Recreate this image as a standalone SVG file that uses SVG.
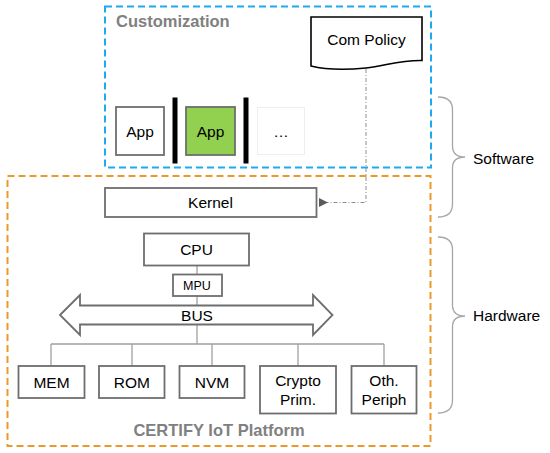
<svg xmlns="http://www.w3.org/2000/svg" width="550" height="453" viewBox="0 0 550 453">
<defs>
<style>
text{font-family:"Liberation Sans",Arial,sans-serif;font-size:15.5px;fill:#000;text-anchor:middle}
.title{font-weight:bold;font-size:16.5px;fill:#808080}
.box{fill:#fff;stroke:#6e6e6e;stroke-width:1.8}
.wire{fill:none;stroke:#a0a0a0;stroke-width:1.3}
.brace{fill:none;stroke:#a6a6a6;stroke-width:1.3}
.bar{fill:#000}
</style>
<marker id="arr" viewBox="0 0 10 10" refX="1" refY="5" markerWidth="9" markerHeight="10" markerUnits="userSpaceOnUse" orient="auto-start-reverse">
<path d="M0,5 L10,0 L10,10 Z" fill="#5a5a5a"/>
</marker>
</defs>
<g id="customization">
<rect x="105" y="6.5" width="326" height="161" fill="none" stroke="#1eaaf0" stroke-width="2" stroke-dasharray="7,4"/>
<text class="title" x="116" y="27" style="text-anchor:start">Customization</text>
</g>
<g id="platform">
<rect x="7.5" y="176" width="423" height="270" fill="none" stroke="#eb9a2a" stroke-width="2" stroke-dasharray="7,4"/>
<text class="title" x="219" y="436">CERTIFY IoT Platform</text>
</g>
<g id="connectors">
<path d="M366,69 V202.5 H327" fill="none" stroke="#909090" stroke-width="1" stroke-dasharray="4,2,1,2" marker-end="url(#arr)"/>
<path class="wire" d="M197,266 V274 M197,296 V305"/>
<path class="wire" d="M197,325 V344 M51,344 H384 M51,344 V366 M132,344 V366 M212,344 V366 M298,344 V366 M384,344 V366"/>
</g>
<g id="compolicy">
<path d="M311,17 H422 V60.5 C400,60 385,66 366,68 C345,70 325,69.5 311,66 Z" fill="#fff" stroke="#000" stroke-width="1.6"/>
<text x="366.5" y="45">Com Policy</text>
</g>
<g id="app1">
<rect class="box" x="116" y="107" width="48" height="48"/>
<text x="140" y="136.5">App</text>
</g>
<rect class="bar" x="172.5" y="97.5" width="5" height="66"/>
<g id="app2">
<rect class="box" x="186" y="107" width="49" height="48" style="fill:#92d050"/>
<text x="210.5" y="136.5">App</text>
</g>
<rect class="bar" x="243.5" y="97.5" width="5" height="66"/>
<g id="more">
<rect x="257.5" y="107.5" width="47" height="47" fill="#fff" stroke="#eeeeee" stroke-width="1"/>
<text x="281" y="137">…</text>
</g>
<g id="kernel">
<rect class="box" x="105" y="188" width="211.5" height="29"/>
<text x="210.5" y="208">Kernel</text>
</g>
<g id="cpu">
<rect class="box" x="144" y="233.5" width="105" height="32"/>
<text x="196.5" y="255">CPU</text>
</g>
<g id="mpu">
<rect class="box" x="173" y="274.5" width="49" height="21.5"/>
<text x="197" y="290" style="font-size:12.5px">MPU</text>
</g>
<g id="bus">
<path d="M60,315 L80,295 V305.5 H313 V295 L332.5,315 L313,335 V324.5 H80 V335 Z" fill="#fff" stroke="#6e6e6e" stroke-width="1.8" stroke-linejoin="miter"/>
<text x="197" y="320.5">BUS</text>
</g>
<g id="mem">
<rect class="box" x="18.5" y="366" width="66" height="32"/>
<text x="51.5" y="387.5">MEM</text>
</g>
<g id="rom">
<rect class="box" x="99" y="366" width="65.5" height="32"/>
<text x="131.8" y="387.5">ROM</text>
</g>
<g id="nvm">
<rect class="box" x="179.5" y="366" width="65" height="32"/>
<text x="212" y="387.5">NVM</text>
</g>
<g id="crypto">
<rect class="box" x="260" y="366" width="76" height="47.5"/>
<text x="298" y="386">Crypto</text>
<text x="298" y="404.5">Prim.</text>
</g>
<g id="periph">
<rect class="box" x="351.5" y="366" width="65" height="47.5"/>
<text x="384" y="386">Oth.</text>
<text x="384" y="404.5">Periph</text>
</g>
<g id="software">
<path class="brace" d="M438,97 Q452.5,97 452.5,110 V146 Q452.5,157 465,157 Q452.5,157 452.5,168 V204 Q452.5,217 438,217"/>
<text x="473" y="163.5" style="text-anchor:start">Software</text>
</g>
<g id="hardware">
<path class="brace" d="M438,237 Q452.5,237 452.5,250 V305 Q452.5,316 465,316 Q452.5,316 452.5,327 V400 Q452.5,413 438,413"/>
<text x="473" y="321" style="text-anchor:start">Hardware</text>
</g>
</svg>
